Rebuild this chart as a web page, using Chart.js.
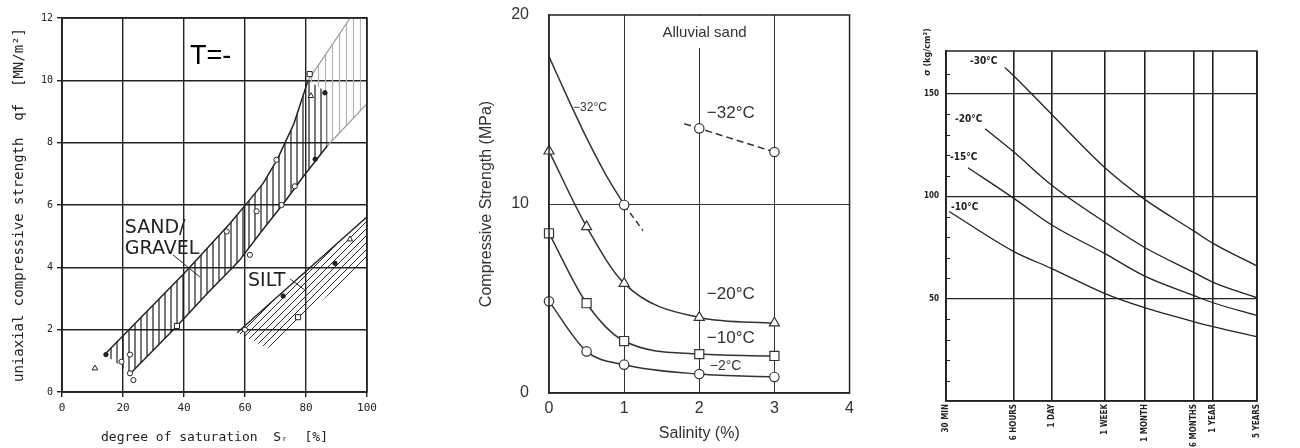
<!DOCTYPE html>
<html lang="en">
<head>
<meta charset="UTF-8">
<title>Frozen soil compressive strength</title>
<script src="https://cdn.jsdelivr.net/npm/chart.js@4.4.1/dist/chart.umd.min.js"></script>
<style>
    html, body {margin: 0;padding: 0;background: #fff;width: 1300px;height: 448px;overflow: hidden;}
    canvas {position: absolute;top: 0;}
    #c1 {left: 0;}
    #c2 {left: 440px;}
    #c3 {left: 860px;}
</style>
</head>
<body>
<canvas id="c1" width="440" height="448"></canvas>
<canvas id="c2" width="420" height="448"></canvas>
<canvas id="c3" width="440" height="448"></canvas>
<script>
// ---- left panel: strength vs degree of saturation ([%], MN/m2)
const satTicks = [0, 20, 40, 60, 80, 100];
const strengthTicks = [0, 2, 4, 6, 8, 10, 12];
const sandUpper = [[14, 1.2], [25, 2.3], [40, 3.8], [55, 5.4], [61, 6.1], [66, 6.7], [70.5, 7.45], [76, 8.6], [80.7, 10.0]];
const sandLower = [[22.5, 0.6], [30, 1.35], [37.7, 2.12], [48, 3.2], [58, 4.2], [65, 5.1], [72.5, 6.03], [79, 6.9], [87, 7.9]];
const sandCorner = [87, 9.6];
const sandUpperExt = [[80.7, 10.0], [94.5, 12]];
const sandLowerExt = [[87, 7.9], [100, 9.25]];
const greyZone = [[80.7, 10.0], [94.5, 12], [98, 12], [98, 9.05], [87, 7.9], [87, 9.6]];
const siltZone = [[57.4, 1.9], [100, 5.6], [100, 4.2], [67.5, 1.4]];
const siltUpper = [[57.4, 1.9], [100, 5.62]];
const sandLeader = [[36.4, 4.4], [45.2, 3.69]];
const siltLeader = [[74.8, 3.63], [80, 3.24]];
const circlePts = [[19.5, 0.97], [22.3, 1.2], [22.3, 0.6], [23.4, 0.38], [54, 5.15], [61.6, 4.4], [63.8, 5.8], [70.3, 7.45], [72, 6.0], [76.3, 6.6], [60, 2.0]];
const squarePts = [[37.7, 2.12], [81.2, 10.2], [77.4, 2.4]];
const trianglePts = [[10.8, 0.76], [81.6, 9.5], [94.4, 4.9]];
const dotPts = [[14.4, 1.2], [83, 7.47], [86.2, 9.6], [72.5, 3.08], [89.5, 4.13]];

// ---- middle panel: strength vs salinity (%, MPa)
const salinity = [0, 0.5, 1, 2, 3];
const str20 = [12.8, 8.8, 5.8, 4.0, 3.7];
const str10 = [8.45, 4.75, 2.75, 2.06, 1.96];
const str2 = [4.85, 2.2, 1.5, 1.0, 0.85];
const cold32X = [0, 0.25, 0.5, 0.75, 1];
const cold32 = [17.8, 15.6, 13.5, 11.6, 9.95];
const cold32Tail = [[1, 9.95], [1.25, 8.6]];
const cold32Salt = [[1.8, 14.25], [2, 14.0], [3, 12.75]];

// ---- right panel: long term strength vs time (hours, kg/cm2)
const timeTicks = [0.5, 6, 24, 168, 720, 4380, 8760, 43800];
const timeLabels = ['30 MIN', '6 HOURS', '1 DAY', '1 WEEK', '1 MONTH', '6 MONTHS', '1 YEAR', '5 YEARS'];
const t30 = [[4.3, 163], [6, 158.8], [24, 140], [168, 114], [720, 98.5], [4380, 83], [8760, 77], [43800, 66]];
const t20 = [[2.1, 133], [6, 121.6], [24, 105.4], [168, 87.3], [720, 75], [4380, 62.7], [8760, 58], [43800, 50.5]];
const t15 = [[1.12, 114], [6, 99], [24, 86], [168, 72], [720, 61], [4380, 51.5], [8760, 48], [43800, 41.7]];
const t10 = [[0.56, 92.6], [6, 73], [24, 64.7], [168, 52.5], [720, 45.6], [4380, 38.7], [8760, 36.3], [43800, 31.4]];

const C = '#222';
const mono = "'DejaVu Sans Mono', monospace";
const sans = "'Liberation Sans', Arial, sans-serif";
const cond = "'DejaVu Sans Condensed', 'Liberation Sans Narrow', 'DejaVu Sans', sans-serif";

Chart.defaults.color = C;
Chart.defaults.animation = false;
Chart.defaults.events = [];
Chart.defaults.plugins.legend.display = false;
Chart.defaults.plugins.tooltip.enabled = false;

const xy = a => a.map(([x, y]) => ({x, y}));

function hatch(color, step, diag, width) {
    const c = document.createElement('canvas');
    c.width = step; c.height = step;
    const g = c.getContext('2d');
    g.strokeStyle = color; g.lineWidth = width;
    g.beginPath();
    if (diag) {
        g.moveTo(-1, step + 1); g.lineTo(step + 1, -1);
        g.moveTo(-1, 1); g.lineTo(1, -1);
        g.moveTo(step - 1, step + 1); g.lineTo(step + 1, step - 1);
    } else {
        g.moveTo(step / 2, 0); g.lineTo(step / 2, step);
    }
    g.stroke();
    return g.createPattern(c, 'repeat');
}

function line(pts, color, w, dash) {
    return {data: xy(pts), showLine: true, borderColor: color, borderWidth: w, borderDash: dash || [],
        pointRadius: 0, fill: false, tension: 0};
}

function zone(pts, pattern) {
    return {data: xy(pts), showLine: true, borderColor: 'transparent', borderWidth: 0,
        pointRadius: 0, fill: 'shape', backgroundColor: pattern, tension: 0};
}

function marks(pts, style, r, fillColor) {
    return {data: xy(pts), showLine: false, pointStyle: style, pointRadius: r,
        backgroundColor: fillColor, borderColor: C, borderWidth: 1};
}

// vertical axes: keep tick label padding from pushing the plot area down
const noPad = s => { s.paddingTop = 0; s.paddingBottom = 0; };

// text labels placed in data coordinates
function notes(items) {
    return {
        id: 'notes',
        afterDatasetsDraw(chart) {
            const {ctx, chartArea} = chart;
            const sx = chart.scales.x, sy = chart.scales.y;
            ctx.save();
            items.forEach(n => {
                const px = sx.getPixelForValue(n.x), py = sy.getPixelForValue(n.y);
                ctx.font = n.font;
                ctx.textAlign = n.align || 'left';
                ctx.textBaseline = n.baseline || 'middle';
                if (n.box) {
                    const w = ctx.measureText(n.text).width;
                    ctx.fillStyle = '#fff';
                    ctx.fillRect(px - w / 2 - 4, chartArea.top + 1, w + 8, py + 15 - chartArea.top - 1);
                }
                ctx.fillStyle = n.color || C;
                ctx.fillText(n.text, px, py);
            });
            ctx.restore();
        }
    };
}

const frame = {
    id: 'frame',
    afterDraw(chart) {
        const {ctx, chartArea: a} = chart;
        ctx.save();
        ctx.strokeStyle = C; ctx.lineWidth = 1.5;
        ctx.strokeRect(a.left, a.top, a.right - a.left, a.bottom - a.top);
        ctx.restore();
    }
};

// ---------------- chart 1
const sandZone = sandUpper.concat([sandCorner], sandLower.slice().reverse());

new Chart(document.getElementById('c1'), {
    type: 'line',
    data: {
        datasets: [
            marks(circlePts, 'circle', 2.6, '#fff'),
            marks(squarePts, 'rect', 3.6, '#fff'),
            marks(trianglePts, 'triangle', 3.2, '#fff'),
            marks(dotPts, 'circle', 2.2, C),
            line(sandUpper, C, 1.5),
            line(sandLower, C, 1.5),
            line(siltUpper, C, 1.3),
            line(sandUpperExt, '#9a9a9a', 1.2),
            line(sandLowerExt, '#9a9a9a', 1.2),
            line(sandLeader, C, 1),
            line(siltLeader, C, 1),
            zone(sandZone, hatch('#1e1e1e', 6, false, 1.2)),
            zone(greyZone, hatch('#b4b4b4', 7, false, 1.2)),
            zone(siltZone, hatch('#2a2a2a', 7, true, 1))
        ]
    },
    options: {
        responsive: false,
        layout: {padding: {left: 0, top: 18, right: 73, bottom: 0}},
        scales: {
            x: {
                type: 'linear', min: 0, max: 100,
                afterBuildTicks: s => { s.ticks = satTicks.map(v => ({value: v})); },
                afterFit: s => { s.height = 56; },
                grid: {color: C, lineWidth: 1.4, tickLength: 5, tickColor: C},
                border: {color: C, width: 1.5},
                ticks: {font: {family: mono, size: 11}, padding: 5, color: C, maxRotation: 0},
                title: {display: true, text: 'degree of saturation  Sᵣ  [%]', color: C,
                    font: {family: mono, size: 13}, padding: {top: 0, bottom: 3}}
            },
            y: {
                min: 0, max: 12,
                afterBuildTicks: s => { s.ticks = strengthTicks.map(v => ({value: v})); },
                afterFit: s => { s.width = 62; noPad(s); },
                grid: {color: C, lineWidth: 1.4, tickLength: 5, tickColor: C},
                border: {color: C, width: 1.5},
                ticks: {font: {family: mono, size: 10}, padding: 4, color: C},
                title: {display: true, text: 'uniaxial compressive strength  qf  [MN/m²]', color: C,
                    font: {family: mono, size: 14}, padding: {top: 11, bottom: 0}}
            }
        }
    },
    plugins: [frame, notes([
        {text: 'SAND/', x: 20.6, y: 5.58, font: "19px 'DejaVu Sans'", baseline: 'top'},
        {text: 'GRAVEL', x: 20.6, y: 4.88, font: "19px 'DejaVu Sans'", baseline: 'top'},
        {text: 'SILT', x: 61, y: 3.85, font: "19px 'DejaVu Sans'", baseline: 'top'},
        {text: 'T=-', x: 42, y: 11.2, font: "27px " + sans, baseline: 'top', color: '#000'}
    ])]
});

// ---------------- chart 2
const pair = (xs, ys) => xs.map((x, i) => [x, ys[i]]);
const openMark = {backgroundColor: '#fff', borderColor: '#333', pointBorderWidth: 1.2, clip: false};

new Chart(document.getElementById('c2'), {
    type: 'line',
    data: {
        datasets: [
            Object.assign(line(pair(salinity, str20), '#333', 1.5), openMark,
                {pointStyle: 'triangle', pointRadius: 5.8, cubicInterpolationMode: 'monotone'}),
            Object.assign(line(pair(salinity, str10), '#333', 1.5), openMark,
                {pointStyle: 'rect', pointRadius: 6.4, cubicInterpolationMode: 'monotone'}),
            Object.assign(line(pair(salinity, str2), '#333', 1.5), openMark,
                {pointStyle: 'circle', pointRadius: 4.7, cubicInterpolationMode: 'monotone'}),
            Object.assign(line(pair(cold32X, cold32), '#333', 1.5), openMark,
                {pointStyle: 'circle', pointRadius: [0, 0, 0, 0, 4.7], cubicInterpolationMode: 'monotone'}),
            line(cold32Tail, '#333', 1.5, [6, 4]),
            Object.assign(line(cold32Salt, '#333', 1.5, [7, 4]), openMark,
                {pointStyle: 'circle', pointRadius: [0, 4.7, 4.7]})
        ]
    },
    options: {
        responsive: false,
        layout: {padding: {left: 0, top: 15, right: 10, bottom: 0}},
        scales: {
            x: {
                type: 'linear', min: 0, max: 4,
                afterFit: s => { s.height = 55; },
                grid: {drawTicks: false, lineWidth: 1,
                    color: ctx => (ctx.tick && ctx.tick.value > 0 && ctx.tick.value < 4) ? '#333' : 'transparent'},
                border: {color: '#333', width: 1.5},
                ticks: {stepSize: 1, padding: 6, font: {family: sans, size: 16}, color: '#333', maxRotation: 0},
                title: {display: true, text: 'Salinity (%)', color: '#333',
                    font: {family: sans, size: 16}, padding: {top: 0, bottom: 5}}
            },
            y: {
                min: 0, max: 20,
                afterFit: s => { s.width = 109; noPad(s); },
                grid: {drawTicks: false, lineWidth: 1,
                    color: ctx => (ctx.tick && ctx.tick.value === 10) ? '#333' : 'transparent'},
                border: {color: '#333', width: 1.5},
                ticks: {stepSize: 10, padding: 20, font: {family: sans, size: 16}, color: '#333'},
                title: {display: true, text: 'Compressive Strength (MPa)', color: '#333',
                    font: {family: sans, size: 16}, padding: {top: 37, bottom: 0}}
            }
        }
    },
    plugins: [frame, notes([
        {text: 'Alluvial sand', x: 2.07, y: 19.05, font: "15px " + sans, align: 'center', box: true, color: '#333'},
        {text: '−32°C', x: 0.32, y: 15.1, font: "12px " + sans, color: '#333'},
        {text: '−32°C', x: 2.1, y: 14.8, font: "17px " + sans, color: '#333'},
        {text: '−20°C', x: 2.1, y: 5.2, font: "17px " + sans, color: '#333'},
        {text: '−10°C', x: 2.1, y: 2.9, font: "17px " + sans, color: '#333'},
        {text: '−2°C', x: 2.14, y: 1.4, font: "14px " + sans, color: '#333'}
    ])]
});

// ---------------- chart 3
const sigmaAxis = {
    id: 'sigmaAxis',
    afterDraw(chart) {
        const {ctx, chartArea: a, scales: {y}} = chart;
        ctx.save();
        ctx.strokeStyle = C; ctx.lineWidth = 1;
        y.ticks.forEach(t => {
            if (t.value % 50 !== 0 && t.value < y.max - 3) {
                const py = Math.round(y.getPixelForValue(t.value)) + 0.5;
                ctx.beginPath(); ctx.moveTo(a.left, py); ctx.lineTo(a.left + 4, py); ctx.stroke();
            }
        });
        ctx.translate(a.left - 18, a.top + 1);
        ctx.rotate(-Math.PI / 2);
        ctx.font = 'bold 9px ' + cond;
        ctx.textAlign = 'center'; ctx.textBaseline = 'middle'; ctx.fillStyle = C;
        ctx.fillText('σ (kg/cm²)', 0, 0);
        ctx.restore();
    }
};

const curve = pts => Object.assign(line(pts, C, 1.3), {cubicInterpolationMode: 'monotone'});

new Chart(document.getElementById('c3'), {
    type: 'line',
    data: {datasets: [curve(t30), curve(t20), curve(t15), curve(t10)]},
    options: {
        responsive: false,
        layout: {padding: {left: 0, top: 51, right: 43, bottom: 0}},
        scales: {
            x: {
                type: 'logarithmic', min: 0.5, max: 43800,
                afterBuildTicks: s => { s.ticks = timeTicks.map(v => ({value: v})); },
                afterFit: s => { s.height = 47; },
                grid: {drawTicks: false, color: C, lineWidth: 1.6},
                border: {color: C, width: 1.5},
                ticks: {autoSkip: false, minRotation: 90, maxRotation: 90, padding: 3, color: C,
                    font: {family: cond, size: 8, weight: 'bold'}, callback: (v, i) => timeLabels[i]}
            },
            y: {
                min: 0, max: 171,
                afterFit: s => { s.width = 86; noPad(s); },
                grid: {drawTicks: false, lineWidth: 1.2,
                    color: ctx => (ctx.tick && ctx.tick.value > 0 && ctx.tick.value % 50 === 0) ? C : 'transparent'},
                border: {color: C, width: 1.5},
                ticks: {stepSize: 10, autoSkip: false, padding: 7, color: C,
                    font: {family: cond, size: 8, weight: 'bold'},
                    callback: v => (v > 0 && v % 50 === 0) ? v : ''}
            }
        }
    },
    plugins: [frame, sigmaAxis, notes([
        {text: '-30°C', x: 1.2, y: 165.7, font: 'bold 10px ' + cond},
        {text: '-20°C', x: 0.695, y: 137.7, font: 'bold 10px ' + cond},
        {text: '-15°C', x: 0.58, y: 119, font: 'bold 10px ' + cond},
        {text: '-10°C', x: 0.6, y: 94.6, font: 'bold 10px ' + cond}
    ])]
});
</script>
</body>
</html>
